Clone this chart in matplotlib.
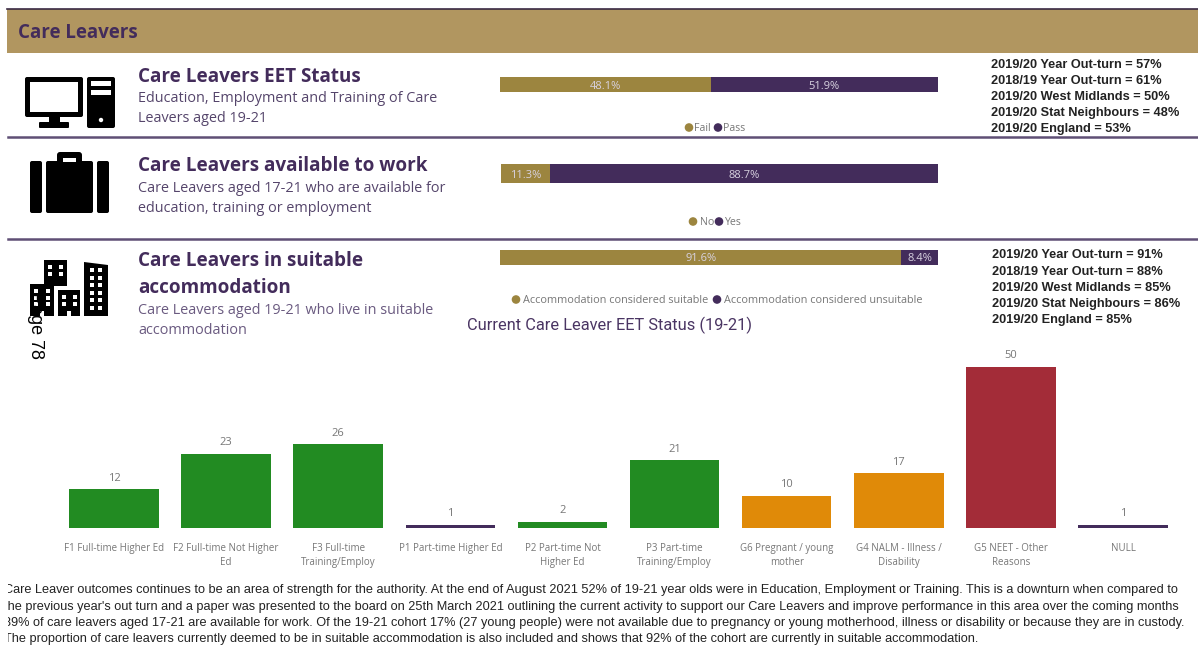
#!/usr/bin/env python3
"""Care Leavers dashboard page: three 100% bars, a stats list and an EET status bar chart."""
import matplotlib
matplotlib.use("Agg")
import matplotlib.pyplot as plt
from matplotlib.patches import Circle, FancyBboxPatch, Polygon, Rectangle

# ---- data
eet_segments = [48.1, 51.9]
eet_legend = ["Fail", "Pass"]
work_segments = [11.3, 88.7]
work_legend = ["No", "Yes"]
accom_segments = [91.6, 8.4]
accom_legend = ["Accommodation considered suitable", "Accommodation considered unsuitable"]

eet_stats = [
    "2019/20 Year Out-turn = 57%",
    "2018/19 Year Out-turn = 61%",
    "2019/20 West Midlands = 50%",
    "2019/20 Stat Neighbours = 48%",
    "2019/20 England = 53%",
]
accom_stats = [
    "2019/20 Year Out-turn = 91%",
    "2018/19 Year Out-turn = 88%",
    "2019/20 West Midlands = 85%",
    "2019/20 Stat Neighbours = 86%",
    "2019/20 England = 85%",
]

status_labels = [
    "F1 Full-time Higher Ed",
    "F2 Full-time Not Higher\nEd",
    "F3 Full-time\nTraining/Employ",
    "P1 Part-time Higher Ed",
    "P2 Part-time Not\nHigher Ed",
    "P3 Part-time\nTraining/Employ",
    "G6 Pregnant / young\nmother",
    "G4 NALM - Illness /\nDisability",
    "G5 NEET - Other\nReasons",
    "NULL",
]
status_values = [12, 23, 26, 1, 2, 21, 10, 17, 50, 1]
status_groups = ["g", "g", "g", "p", "g", "g", "o", "o", "r", "p"]

body_lines = [
    "Care Leaver outcomes continues to be an area of strength for the authority. At the end of August 2021 52% of 19-21 year olds were in Education, Employment or Training. This is a downturn when compared to",
    "the previous year's out turn and a paper was presented to the board on 25th March 2021 outlining the current activity to support our Care Leavers and improve performance in this area over the coming months",
    "89% of care leavers aged 17-21 are available for work. Of the 19-21 cohort 17% (27 young people) were not available due to pregnancy or young motherhood, illness or disability or because they are in custody.",
    "The proportion of care leavers currently deemed to be in suitable accommodation is also included and shows that 92% of the cohort are currently in suitable accommodation.",
]

# ---- styles
W, H = 1198, 650
GOLD = "#9c853f"
BAND = "#b19660"
PURPLE = "#432c5b"
RULE = "#5f4f75"
GREY = "#777777"
GROUP_COLOURS = {"g": "#228b22", "p": PURPLE, "o": "#e08a08", "r": "#a32c38"}
SANS = "Open Sans"
ARIAL = "Liberation Sans"

fig = plt.figure(figsize=(W / 100, H / 100), dpi=100, facecolor="white")
page = fig.add_axes([0, 0, 1, 1])
page.set_xlim(0, W)
page.set_ylim(H, 0)
page.axis("off")


def rect(x0, y0, x1, y1, color, z=1):
    page.add_patch(Rectangle((x0, y0), x1 - x0, y1 - y0, fc=color, ec="none", zorder=z))


def rrect(x0, y0, x1, y1, color, r=2, z=2):
    page.add_patch(FancyBboxPatch((x0 + r, y0 + r), x1 - x0 - 2 * r, y1 - y0 - 2 * r,
                                  boxstyle=f"round,pad={r}", fc=color, ec="none", zorder=z))


def draw_computer():
    rrect(25, 77, 83, 117, "black")
    rect(30, 82, 78, 112, "white", 3)
    rect(49, 117, 60, 123, "black", 2)
    rrect(39, 122, 69, 128, "black", 1)
    rrect(87, 77, 115, 128, "black")
    rect(91, 81, 111, 86, "white", 3)
    rect(91, 90, 111, 95, "white", 3)
    page.add_patch(Circle((101, 120), 2.2, fc="white", ec="none", zorder=3))


def draw_case():
    rrect(30, 161, 42, 213, "black")
    rrect(46, 161, 93, 213, "black")
    rrect(97, 161, 109, 213, "black")
    rrect(57, 152, 82, 166, "black", 3)
    rect(63, 158, 76, 162, "white", 3)


def draw_block(x0, y0, x1, y1, cols, rows, door=False):
    rect(x0, y0, x1, y1, "black", 2)
    cw = (x1 - x0) / cols
    ch = 4.0
    for c in range(cols):
        for r in range(rows):
            wx = x0 + cw * c + cw / 2 - 2
            wy = y0 + 5 + r * (ch + 2.5)
            rect(wx, wy, wx + 4, wy + ch, "white", 3)
    if door:
        mid = (x0 + x1) / 2
        rect(mid - 2, y1 - 5, mid + 2, y1, "white", 3)


def draw_city():
    draw_block(44, 260, 67, 286, 2, 2)
    draw_block(30, 284, 54, 316, 2, 3, door=True)
    draw_block(58, 290, 80, 316, 2, 2, door=True)
    page.add_patch(Polygon([(84, 262), (108, 265), (108, 316), (84, 316)], fc="black", ec="none", zorder=2))
    for r in range(6):
        for wx in (90, 98):
            rect(wx, 268 + r * 7.6, wx + 4, 272 + r * 7.6, "white", 3)


def segment_bar(x0, x1, y0, y1, segments, text_shift=0.0, fontsize=8):
    ax = fig.add_axes([x0 / W, 1 - y1 / H, (x1 - x0) / W, (y1 - y0) / H])
    left = 0
    for val, col in zip(segments, [GOLD, PURPLE]):
        ax.barh(0, val, left=left, height=1, color=col)
        ax.text(left + val / 2, text_shift, f"{val}%", ha="center", va="center", color="#d8d2e0",
                fontsize=fontsize, family=SANS)
        left += val
    ax.set_xlim(0, sum(segments))
    ax.set_ylim(-0.5, 0.5)
    ax.axis("off")


def dot_legend(items, y, fontsize=7.7):
    for x_dot, x_text, label, col in items:
        page.add_patch(Circle((x_dot, y), 4.3, fc=col, ec="none", zorder=3))
        page.text(x_text, y + 1, label, ha="left", va="center", color=GREY, fontsize=fontsize, family=SANS)


# ---- header
rect(7, 9, W, 53, BAND)
page.plot([7, W], [8.5, 8.5], color="#3a2a44", lw=1.2)
page.text(18, 33, "Care Leavers", ha="left", va="center", color=PURPLE, fontsize=13.5,
          fontweight="bold", family=SANS)
for y in (137, 238.5):
    page.plot([8, W], [y, y], color=RULE, lw=1.8)

draw_computer()
draw_case()
draw_city()

# ---- section headings
page.text(138, 76.5, "Care Leavers EET Status", color=PURPLE, fontsize=13.6, fontweight="bold",
          family=SANS, va="center")
page.text(138, 99, "Education, Employment and Training of Care", color="#55456b", fontsize=10.35,
          family=SANS, va="center")
page.text(138, 119, "Leavers aged 19-21", color="#55456b", fontsize=10.35, family=SANS, va="center")
page.text(138, 166, "Care Leavers available to work", color=PURPLE, fontsize=13.6, fontweight="bold",
          family=SANS, va="center")
page.text(138, 188.5, "Care Leavers aged 17-21 who are available for", color="#55456b", fontsize=10.4,
          family=SANS, va="center")
page.text(138, 209, "education, training or employment", color="#55456b", fontsize=10.35,
          family=SANS, va="center")
page.text(138, 261.5, "Care Leavers in suitable", color=PURPLE, fontsize=13.6, fontweight="bold",
          family=SANS, va="center")
page.text(138, 288, "accommodation", color=PURPLE, fontsize=13.6, fontweight="bold",
          family=SANS, va="center")
page.text(138, 310.5, "Care Leavers aged 19-21 who live in suitable", color="#6a5a80", fontsize=10.4,
          family=SANS, va="center")
page.text(138, 330.5, "accommodation", color="#6a5a80", fontsize=10.35, family=SANS, va="center")

page.text(35, 325, "Page 78", rotation=270, ha="center", va="center", color="black", fontsize=13,
          family=ARIAL, zorder=5)

# ---- 100% bars and legends
segment_bar(500, 938, 77, 92, eet_segments, text_shift=-0.14)
segment_bar(501, 938, 164, 183, work_segments, text_shift=-0.08)
segment_bar(500, 938, 250, 265, accom_segments, text_shift=-0.05)

dot_legend([(689, 694, eet_legend[0], GOLD), (718, 723.5, eet_legend[1], PURPLE)], 127.5)
dot_legend([(693, 700, work_legend[0], GOLD), (719, 724.5, work_legend[1], PURPLE)], 221.5)
dot_legend([(516, 523, accom_legend[0], GOLD), (717, 724, accom_legend[1], PURPLE)], 299.5, fontsize=7.8)

# ---- comparator stats
for i, line in enumerate(eet_stats):
    page.text(991, 64.5 + i * 16.2, line, color="#222222", fontsize=9.15, fontweight="bold",
              family=ARIAL, va="center")
for i, line in enumerate(accom_stats):
    page.text(992, 255.5 + i * 16.2, line, color="#222222", fontsize=9.15, fontweight="bold",
              family=ARIAL, va="center")

# ---- EET status bar chart
page.text(467, 325, "Current Care Leaver EET Status (19-21)", color="#4a3563", fontsize=11.8,
          family="Roboto", va="center")

chart_x0, chart_x1, chart_top, chart_base = 58, 1179, 367, 528
ax = fig.add_axes([chart_x0 / W, 1 - chart_base / H, (chart_x1 - chart_x0) / W,
                   (chart_base - chart_top) / H])
positions = list(range(len(status_values)))
bars = ax.bar(positions, status_values, width=0.8,
              color=[GROUP_COLOURS[g] for g in status_groups])
ax.bar_label(bars, padding=4, color=GREY, fontsize=8, family=SANS)
ax.set_xlim(-0.5, 9.5)
ax.set_ylim(0, 50)
ax.set_xticks(positions)
ax.set_xticklabels(status_labels, color=GREY, fontsize=7.05, family=SANS, linespacing=1.4, va="top")
ax.tick_params(axis="x", length=0, pad=11)
ax.set_yticks([])
for side in ax.spines.values():
    side.set_visible(False)
ax.patch.set_alpha(0)

# ---- commentary, left edge cropped like the scanned page
for i, line in enumerate(body_lines):
    page.text(4.5, 590.5 + i * 16.1, line, color="#222222", fontsize=9.18, family=ARIAL, va="center")
rect(0, 580, 7.5, 650, "white", 6)

fig.savefig("out.png", dpi=100, facecolor="white")
